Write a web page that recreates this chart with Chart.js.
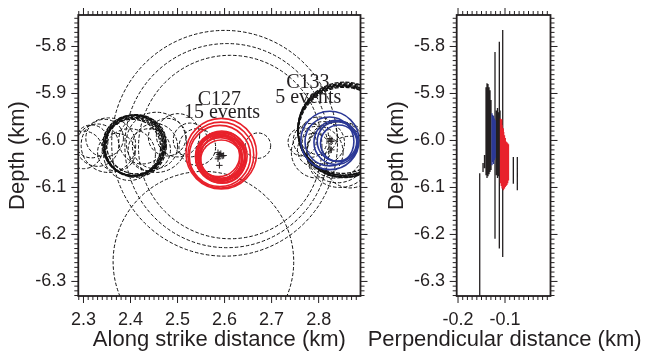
<!DOCTYPE html>
<html><head><meta charset="utf-8">
<script src="https://cdn.jsdelivr.net/npm/chart.js@4/dist/chart.umd.min.js"></script>
<style>
html,body{margin:0;padding:0;background:#fff;width:647px;height:354px;overflow:hidden;}
#cL{position:absolute;left:0;top:0;}
#cR{position:absolute;left:355px;top:0;}
</style></head><body>
<canvas id="cL" width="372" height="354"></canvas>
<canvas id="cR" width="292" height="354"></canvas>
<script>
// ---------- tick labels ----------
const alongTicks = [2.3, 2.4, 2.5, 2.6, 2.7, 2.8];
const depthTicks = [-5.8, -5.9, -6.0, -6.1, -6.2, -6.3];
const perpTicks  = [-0.2, -0.1];

// ---------- left panel: error circles (km) ----------
// dashed black circles (other events)
const dashX = [2.600, 2.605, 2.612, 2.555,
  2.317, 2.330, 2.353, 2.345, 2.425, 2.398,
  2.455, 2.452, 2.478, 2.440, 2.501, 2.527, 2.542, 2.370, 2.300,
  2.671,
  2.765, 2.782, 2.790, 2.797, 2.835, 2.840, 2.845, 2.867, 2.810, 2.800];
const dashY = [-6.006, -6.011, -6.014, -6.258,
  -6.002, -6.010, -6.010, -5.995, -6.000, -6.030,
  -6.004, -6.012, -5.993, -6.020, -5.989, -5.999, -6.014, -6.025, -6.020,
  -6.011,
  -6.003, -6.000, -6.020, -6.025, -6.020, -6.025, -6.030, -6.046, -6.005, -5.990];
const dashR = [0.240, 0.217, 0.195, 0.192,
  0.035, 0.045, 0.058, 0.040, 0.050, 0.055,
  0.064, 0.048, 0.040, 0.045, 0.046, 0.036, 0.039, 0.040, 0.040,
  0.027,
  0.030, 0.036, 0.035, 0.055, 0.060, 0.065, 0.070, 0.055, 0.045, 0.040];
// dashed circles that stack into the two dark rings
const ringX = [2.405, 2.408, 2.410, 2.404, 2.412, 2.407, 2.406, 2.409,
  2.853, 2.851, 2.855, 2.852, 2.856, 2.850, 2.854, 2.853];
const ringY = [-6.010, -6.013, -6.012, -6.015, -6.008, -6.011, -6.014, -6.012,
  -5.977, -5.979, -5.975, -5.981, -5.978, -5.976, -5.980, -5.983];
const ringR = [0.064, 0.062, 0.066, 0.060, 0.063, 0.065, 0.061, 0.064,
  0.097, 0.095, 0.099, 0.096, 0.100, 0.094, 0.098, 0.096];
// C127 (red, 15 events)
const redX = [2.593, 2.592, 2.590, 2.590, 2.594, 2.588, 2.596, 2.591, 2.587, 2.595, 2.592, 2.589, 2.593, 2.597, 2.586];
const redY = [-6.028, -6.031, -6.033, -6.034, -6.030, -6.038, -6.036, -6.040, -6.032, -6.041, -6.037, -6.035, -6.043, -6.033, -6.036];
const redR = [0.075, 0.070, 0.065, 0.052, 0.050, 0.048, 0.047, 0.046, 0.045, 0.050, 0.053, 0.049, 0.044, 0.051, 0.047];
// C133 (blue, 5 events)
const blueX = [2.824, 2.823, 2.837, 2.839, 2.843];
const blueY = [-6.000, -6.002, -6.004, -6.002, -6.006];
const blueR = [0.062, 0.052, 0.047, 0.042, 0.039];
// hypocentre markers
const markX = [2.586, 2.589, 2.592, 2.595, 2.588, 2.586, 2.598, 2.589, 2.824, 2.828, 2.826, 2.827];
const markY = [-6.026, -6.030, -6.028, -6.033, -6.035, -6.039, -6.032, -6.053, -5.996, -5.999, -6.002, -6.020];

// ---------- right panel: depth error bars ----------
const blkPerp = [-0.1538, -0.1468, -0.1436, -0.1404, -0.1383, -0.1362, -0.1340, -0.1319, -0.1298, -0.1213,
  -0.1181, -0.1160, -0.1138, -0.1121, -0.1106, -0.1049, -0.0823, -0.0738];
const blkTop = [-6.070, -6.048, -6.031, -5.887, -5.878, -5.880, -5.887, -5.893, -5.914, -5.812,
  -5.936, -5.931, -5.940, -5.790, -5.936, -5.765, -6.035, -6.035];
const blkBot = [-6.360, -6.067, -6.059, -6.074, -6.080, -6.076, -6.072, -6.067, -6.063, -6.209,
  -6.074, -6.080, -6.076, -6.230, -6.067, -6.248, -6.092, -6.106];
const bluePerp = [-0.1277, -0.1260, -0.1243, -0.1226, -0.1209];
const blueTop = [-5.942, -5.946, -5.948, -5.953, -5.957];
const blueBot = [-6.053, -6.046, -6.050, -6.042, -6.038];
const redPerp = [-0.1096, -0.1079, -0.1070, -0.1062, -0.1045, -0.1036, -0.1028, -0.1011, -0.0994, -0.0977, -0.0960, -0.0943, -0.0926];
const redTop = [-5.953, -5.957, -5.955, -5.967, -5.978, -5.974, -5.982, -5.989, -5.995, -6.002, -6.004, -6.006, -6.008];
const redBot = [-6.091, -6.097, -6.092, -6.102, -6.102, -6.106, -6.104, -6.102, -6.099, -6.097, -6.095, -6.091, -6.085];

// ---------- styling ----------
const INK = '#231f20';
const RED = '#e8212b';
const BLUE = '#2b3896';
const SANS = "'Liberation Sans', Arial, Helvetica, sans-serif";
const SERIF = "'Liberation Serif', 'Times New Roman', serif";
Chart.defaults.font.family = SANS;
Chart.defaults.color = INK;

function circles(xs, ys, rs) { return xs.map((x, i) => ({x: x, y: ys[i], rad: rs[i]})); }
function segs(xs, tops, bots) {
  const out = [];
  xs.forEach((x, i) => { out.push({x: x, y: tops[i]}, {x: x, y: bots[i]}, {x: x, y: null}); });
  return out;
}
function pxRadius(ctx) {
  const d = ctx.raw; if (!d || d.rad === undefined) return 0;
  const s = ctx.chart.scales.x;
  return Math.abs(s.getPixelForValue(d.x + d.rad) - s.getPixelForValue(d.x));
}

const dashPlugin = {
  id: 'dashCircles',
  beforeDatasetDraw(chart, args) {
    const ds = chart.data.datasets[args.index];
    chart.ctx.setLineDash(ds.dashPattern || []);
  },
  afterDatasetDraw(chart) { chart.ctx.setLineDash([]); }
};

const framePlugin = {
  id: 'frameTicks',
  afterDraw(chart) {
    const {ctx, chartArea: a} = chart;
    const xs = chart.scales.x, ys = chart.scales.y;
    ctx.save();
    ctx.setLineDash([]);
    ctx.strokeStyle = INK;
    ctx.lineWidth = 1;
    const ticks = (scale, horiz) => {
      const lo = Math.ceil(scale.min * 100 - 1e-6), hi = Math.floor(scale.max * 100 + 1e-6);
      for (let i = lo; i <= hi; i++) {
        const p = scale.getPixelForValue(i / 100);
        const len = (Math.abs(i) % 10 === 0) ? 7 : 4;
        ctx.beginPath();
        if (horiz) {
          ctx.moveTo(p, a.top); ctx.lineTo(p, a.top - len);
          ctx.moveTo(p, a.bottom); ctx.lineTo(p, a.bottom + len);
        } else {
          ctx.moveTo(a.left, p); ctx.lineTo(a.left - len, p);
          ctx.moveTo(a.right, p); ctx.lineTo(a.right + len, p);
        }
        ctx.stroke();
      }
    };
    ticks(xs, true); ticks(ys, false);
    ctx.lineWidth = 1.8;
    ctx.strokeRect(a.left, a.top, a.right - a.left, a.bottom - a.top);
    // free-width axis title (not squeezed to the axis width)
    const t = chart.options.plugins.frameTicks && chart.options.plugins.frameTicks.xTitle;
    if (t) {
      ctx.fillStyle = INK;
      ctx.font = '22px ' + SANS;
      ctx.textAlign = 'center';
      ctx.textBaseline = 'middle';
      ctx.fillText(t, (a.left + a.right) / 2 + 1, chart.height - 14);
    }
    ctx.restore();
  }
};

// annotation texts (anchored in data coordinates, alphabetic baseline)
const noteText = ['C127', '15 events', 'C133', '5 events'];
const noteAt = [[2.589, -5.9238], [2.5945, -5.9515], [2.777, -5.8887], [2.778, -5.920]];
const notePlugin = {
  id: 'notes',
  afterDatasetsDraw(chart) {
    const ctx = chart.ctx, xs = chart.scales.x, ys = chart.scales.y;
    ctx.save();
    ctx.fillStyle = INK;
    ctx.font = '20px ' + SERIF;
    ctx.textAlign = 'center';
    ctx.textBaseline = 'alphabetic';
    noteText.forEach((t, i) => ctx.fillText(t, xs.getPixelForValue(noteAt[i][0]), ys.getPixelForValue(noteAt[i][1])));
    ctx.restore();
  }
};

function axis(opts) {
  return Object.assign({
    type: 'linear',
    grid: {display: false, drawTicks: false},
    border: {display: false},
  }, opts);
}
const fitX = s => { s.height = 58; s.paddingLeft = 0; s.paddingRight = 0; s.paddingTop = 0; s.paddingBottom = 0; };
const fitY = w => s => { s.width = w; s.paddingTop = 0; s.paddingBottom = 0; s.paddingLeft = 0; s.paddingRight = 0; };
const tickFont = {family: SANS, size: 18};
const titleFont = {family: SANS, size: 22};
const NOFILL = 'rgba(0,0,0,0)';

// ---------- left chart ----------
new Chart(document.getElementById('cL'), {
  type: 'scatter',
  data: {
    datasets: [
      {label: 'hypocentres', data: markX.map((x, i) => ({x: x, y: markY[i]})), pointStyle: 'cross',
       pointRadius: 3.2, borderColor: INK, borderWidth: 1, backgroundColor: INK, clip: 0},
      {label: 'C133', data: circles(blueX, blueY, blueR), pointRadius: pxRadius,
       borderColor: BLUE, borderWidth: 1.6, backgroundColor: NOFILL, clip: 0},
      {label: 'C127', data: circles(redX, redY, redR), pointRadius: pxRadius,
       borderColor: RED, borderWidth: 1.6, backgroundColor: NOFILL, clip: 0},
      {label: 'rings', data: circles(ringX, ringY, ringR), pointRadius: pxRadius, dashPattern: [4, 1.5],
       borderColor: '#111', borderWidth: 1.3, backgroundColor: NOFILL, clip: 0},
      {label: 'other', data: circles(dashX, dashY, dashR), pointRadius: pxRadius, dashPattern: [3.5, 2],
       borderColor: '#111', borderWidth: 1, backgroundColor: NOFILL, clip: 0}
    ]
  },
  options: {
    responsive: false, animation: false, events: [],
    layout: {padding: {top: 15, right: 11.5, left: 0, bottom: 0}},
    plugins: {legend: {display: false}, tooltip: {enabled: false}},
    scales: {
      x: axis({min: 2.289, max: 2.889,
        afterFit: fitX,
        afterBuildTicks: s => { s.ticks = alongTicks.map(v => ({value: v})); },
        ticks: {padding: 13, color: INK, font: tickFont, maxRotation: 0, autoSkip: false, callback: v => Number(v).toFixed(1)},
        title: {display: true, text: 'Along strike distance (km)', color: INK, font: titleFont, padding: {top: 0, bottom: 1}}}),
      y: axis({min: -6.331, max: -5.733,
        afterFit: fitY(78.3),
        afterBuildTicks: s => { s.ticks = depthTicks.map(v => ({value: v})); },
        ticks: {padding: 12, color: INK, font: tickFont, autoSkip: false, callback: v => Number(v).toFixed(1)},
        title: {display: true, text: 'Depth (km)', color: INK, font: titleFont, padding: {top: 5, bottom: 0}}})
    }
  },
  plugins: [dashPlugin, notePlugin, framePlugin]
});

// ---------- right chart ----------
new Chart(document.getElementById('cR'), {
  type: 'scatter',
  data: {
    datasets: [
      {label: 'C127', data: segs(redPerp, redTop, redBot), showLine: true, spanGaps: false, pointRadius: 0,
       borderColor: RED, borderWidth: 1.3, clip: 0},
      {label: 'C133', data: segs(bluePerp, blueTop, blueBot), showLine: true, spanGaps: false, pointRadius: 0,
       borderColor: BLUE, borderWidth: 1.3, clip: 0},
      {label: 'other', data: segs(blkPerp, blkTop, blkBot), showLine: true, spanGaps: false, pointRadius: 0,
       borderColor: INK, borderWidth: 1.3, clip: 0}
    ]
  },
  options: {
    responsive: false, animation: false, events: [],
    layout: {padding: {top: 15, right: 96.5, left: 0, bottom: 0}},
    plugins: {legend: {display: false}, tooltip: {enabled: false},
      frameTicks: {xTitle: 'Perpendicular distance (km)'}},
    scales: {
      x: axis({min: -0.2028, max: -0.0032,
        afterFit: fitX,
        afterBuildTicks: s => { s.ticks = perpTicks.map(v => ({value: v})); },
        ticks: {padding: 13, color: INK, font: tickFont, maxRotation: 0, autoSkip: false, callback: v => Number(v).toFixed(1)},
        title: {display: false}}),
      y: axis({min: -6.331, max: -5.733,
        afterFit: fitY(101.7),
        afterBuildTicks: s => { s.ticks = depthTicks.map(v => ({value: v})); },
        ticks: {padding: 11.7, color: INK, font: tickFont, autoSkip: false, callback: v => Number(v).toFixed(1)},
        title: {display: true, text: 'Depth (km)', color: INK, font: titleFont, padding: {top: 28.8, bottom: 0}}})
    }
  },
  plugins: [framePlugin]
});
</script>
</body></html>
